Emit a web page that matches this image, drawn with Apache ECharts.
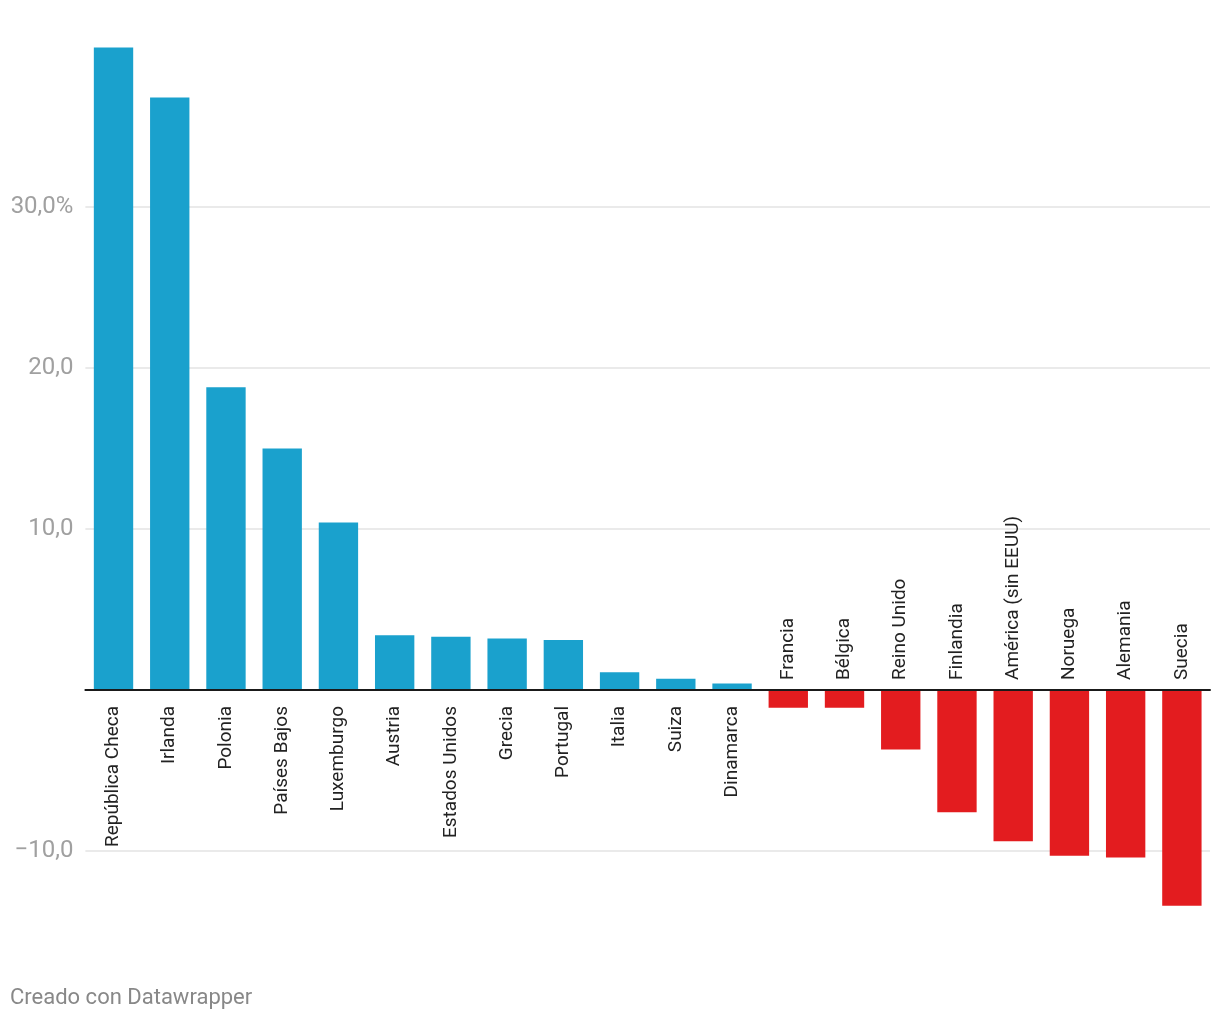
<!DOCTYPE html>
<html>
<head>
<meta charset="utf-8">
<script src="https://cdn.jsdelivr.net/npm/echarts@6/dist/echarts.min.js"></script>
<style>
html,body{margin:0;padding:0;background:#fff;}
#chart{width:1220px;height:1020px;}
</style>
</head>
<body>
<div id="chart"></div>
<script>
const categories = ["República Checa","Irlanda","Polonia","Países Bajos","Luxemburgo","Austria","Estados Unidos","Grecia","Portugal","Italia","Suiza","Dinamarca","Francia","Bélgica","Reino Unido","Finlandia","América (sin EEUU)","Noruega","Alemania","Suecia"];
const values = [39.9,36.8,18.8,15.0,10.4,3.4,3.3,3.2,3.1,1.1,0.7,0.4,-1.1,-1.1,-3.7,-7.6,-9.4,-10.3,-10.4,-13.4];
const yTicks = [-10,10,20,30];
const BLUE = '#1aa1cd';
const RED = '#e31c1f';
const FONT = 'Roboto';

function fmtY(v){
  const s = (v<0?'\u2212':'') + Math.abs(v).toFixed(1).replace('.', ',');
  return v===30 ? s + '%' : s;
}

const chart = echarts.init(document.getElementById('chart'), null, {renderer:'canvas'});
chart.setOption({
  animation:false,
  backgroundColor:'#fff',
  grid:{left:85.4, right:10, top:46, bottom:104.6, containLabel:false},
  xAxis:{
    type:'category',
    data:categories,
    axisLine:{onZero:true, lineStyle:{color:'#1a1a1a', width:2}},
    axisTick:{show:false},
    axisLabel:{show:false},
    splitLine:{show:false},
    z:5
  },
  yAxis:{
    type:'value',
    min:-14,
    max:40,
    axisLine:{show:false},
    axisTick:{show:false, customValues:yTicks},
    axisLabel:{customValues:yTicks, formatter:fmtY, color:'#a0a0a0', fontFamily:FONT, fontSize:24, margin:12},
    splitLine:{show:true, lineStyle:{color:'#e3e3e3', width:1.5}}
  },
  series:[{
    type:'bar',
    barCategoryGap:'30%',
    z:3,
    data: values.map(v => ({
      value:v,
      itemStyle:{color: v>=0 ? BLUE : RED},
      label:{
        show:true,
        position: v>=0 ? 'bottom' : 'top',
        align: v>=0 ? 'right' : 'left',
        verticalAlign:'middle',
        distance: v>=0 ? 16 : 10
      }
    })),
    label:{
      show:true,
      rotate:90,
      fontFamily:FONT,
      fontSize:19,
      color:'#222',
      formatter: p => categories[p.dataIndex]
    }
  }],
  graphic:[{
    type:'text',
    left:10,
    top:987,
    style:{text:'Creado con Datawrapper', fill:'#888', font:'22px Roboto'}
  }]
});
</script>
</body>
</html>
